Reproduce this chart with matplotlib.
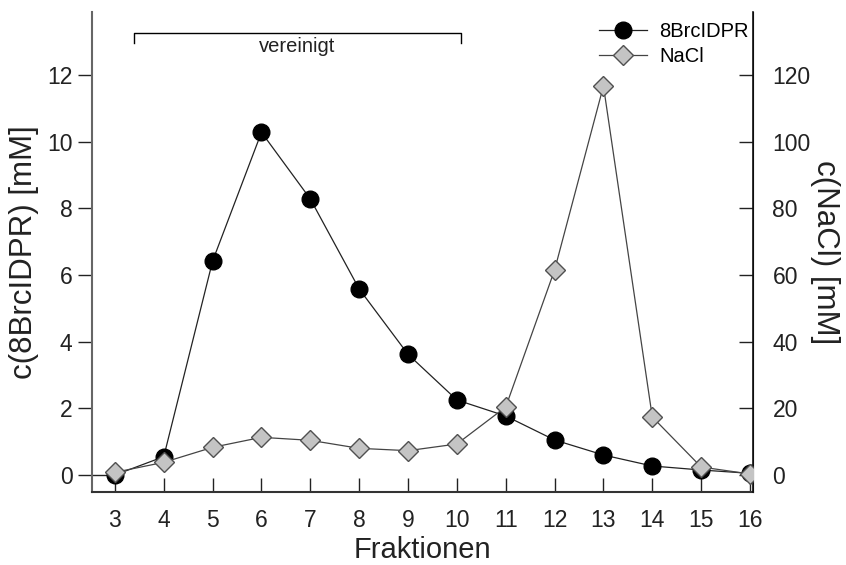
import matplotlib
matplotlib.use("Agg")
import matplotlib.pyplot as plt

plt.rcParams['font.family'] = ['Liberation Sans', 'DejaVu Sans']

# Fractions and measured concentrations
fractions = [3, 4, 5, 6, 7, 8, 9, 10, 11, 12, 13, 14, 15, 16]
c_8brcidpr = [0.0, 0.55, 6.42, 10.28, 8.28, 5.58, 3.62, 2.25, 1.77, 1.05, 0.60, 0.27, 0.15, 0.05]
c_nacl = [0.8, 3.8, 8.3, 11.3, 10.4, 8.0, 7.3, 9.3, 20.4, 61.5, 116.7, 17.4, 2.4, 0.3]

pooled_range = (3.39, 10.08)
pooled_label = "vereinigt"

fig = plt.figure(figsize=(8.46, 5.65), dpi=100)
ax = fig.add_axes([0.1087, 0.1292, 0.7813, 0.8496])
ax2 = ax.twinx()

xlim = (2.53, 16.06)
ax.set_xlim(*xlim)
ax.set_ylim(-0.51, 13.89)
ax2.set_ylim(-5.1, 138.9)

# baseline stubs from the spines to the first/last fraction
ax.plot([xlim[0], fractions[0]], [0, 0], color='#222222', lw=1.0, zorder=1)
ax.plot([fractions[-1], xlim[1]], [0, 0], color='#222222', lw=1.6, zorder=1)

l1, = ax.plot(fractions, c_8brcidpr, color='#222222', lw=0.9, marker='o',
              ms=12, mfc='black', mec='black', label='8BrcIDPR', zorder=3)
l2, = ax2.plot(fractions, c_nacl, color='#444444', lw=0.9, marker='D',
               ms=10.5, mfc='#c4c4c4', mec='#505050', mew=1.0, label='NaCl', zorder=3)

# pooled fractions bracket
y_br = 13.26
ax.plot([pooled_range[0], pooled_range[0], pooled_range[1], pooled_range[1]],
        [y_br - 0.3, y_br, y_br, y_br - 0.3], color='black', lw=1.0, clip_on=False)
ax.text(sum(pooled_range) / 2, y_br - 0.12, pooled_label, ha='center', va='top',
        fontsize=14.5, color='#222222')

ax.set_xticks(fractions)
ax.set_yticks(range(0, 13, 2))
ax2.set_yticks(range(0, 121, 20))

ax.tick_params(axis='x', direction='in', length=10, width=1.0, labelsize=16.5,
               colors='#222222', pad=12)
ax.tick_params(axis='y', direction='out', length=10, width=1.0, labelsize=16.5,
               colors='#222222', pad=4)
ax2.tick_params(axis='y', direction='in', length=10, width=1.0, labelsize=16.5,
                colors='#222222', pad=14)

for a in (ax, ax2):
    a.spines['top'].set_visible(False)
ax.spines['left'].set_color('#666666')
ax.spines['left'].set_linewidth(1.5)
ax.spines['bottom'].set_color('#333333')
ax.spines['bottom'].set_linewidth(1.5)
ax2.spines['left'].set_visible(False)
ax2.spines['bottom'].set_visible(False)
ax2.spines['right'].set_color('#111111')
ax2.spines['right'].set_linewidth(1.2)

ax.set_xlabel('Fraktionen', fontsize=21, color='#222222', labelpad=3)
ax.set_ylabel('c(8BrcIDPR) [mM]', fontsize=22.5, color='#222222', labelpad=6)
ax2.set_ylabel('c(NaCl) [mM]', fontsize=22.5, color='#222222', rotation=270,
               labelpad=21)

ax2.legend([l1, l2], ['8BrcIDPR', 'NaCl'], loc='upper right', frameon=False,
           fontsize=14.5, handlelength=2.4, handletextpad=0.6, labelspacing=0.3,
           borderaxespad=0.0, bbox_to_anchor=(1.006, 0.995))

fig.savefig('out.png', dpi=100)
